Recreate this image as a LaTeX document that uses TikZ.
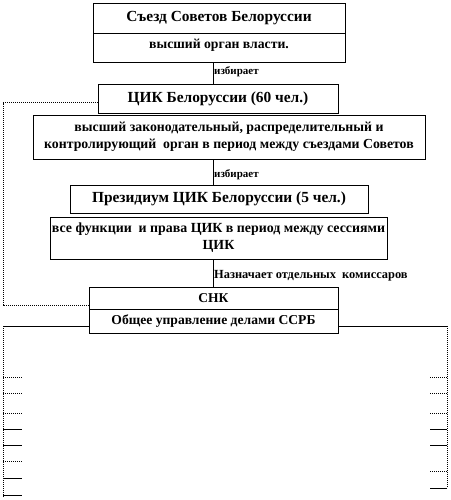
\documentclass[tikz,border=0pt]{standalone}
\usepackage{fontspec}
\setmainfont{Liberation Serif}
\begin{document}
\begin{tikzpicture}[x=1pt,y=-1pt,
  box/.style={draw, line width=0.8pt, inner sep=0pt, align=center, font=\bfseries},
  big/.style={font=\bfseries\fontsize{15.4}{17}\selectfont},
  mid/.style={font=\bfseries\fontsize{13.8}{17}\selectfont},
  lbl/.style={anchor=west, inner sep=1pt, font=\bfseries\fontsize{11}{12}\selectfont},
  lnk/.style={line width=0.6pt},
  dots/.style={densely dotted, line width=1pt},
  tick/.style={line width=0.8pt}]
\useasboundingbox (0,0) rectangle (450,500);
% top
\node[box, big, minimum width=252pt, minimum height=30pt] (s1) at (219,18) {Съезд Советов Белоруссии};
\node[box, font=\bfseries\fontsize{13.7}{17}\selectfont, minimum width=252pt, minimum height=29pt, text depth=7pt] (s2) at (219,47.5) {высший орган власти.};
% CIK
\node[box, big, minimum width=240pt, minimum height=29pt] (c1) at (218,98.5) {ЦИК Белоруссии (60 чел.)};
\node[box, mid, minimum width=392pt, minimum height=44pt] (c2) at (229,137) {высший законодательный, распределительный и\\контролирующий\ \ орган в период между съездами Советов};
% Presidium
\node[box, big, minimum width=298pt, minimum height=28pt] (p1) at (219,199) {Президиум ЦИК Белоруссии (5 чел.)};
\node[box, font=\bfseries\fontsize{13.9}{17}\selectfont, minimum width=337pt, minimum height=42pt] (p2) at (218.5,238) {все функции\ \ и права ЦИК в период между сессиями\\ЦИК};
% SNK
\node[box, font=\bfseries\fontsize{13.5}{15}\selectfont, minimum width=249pt, minimum height=22pt] (n1) at (213.5,298) {СНК};
\node[box, font=\bfseries\fontsize{13.6}{16}\selectfont, minimum width=249pt, minimum height=24pt] (n2) at (213.5,321) {Общее управление делами ССРБ};
% connectors
\draw[lnk] ([xshift=-6pt]s2.south) -- ([xshift=-6pt]s2.south |- c1.north);
\node[lbl] (l1) at (213,72) {избирает};
\draw[lnk] ([xshift=-16pt]c2.south) -- ([xshift=-16pt]c2.south |- p1.north);
\node[lbl] (l2) at (213,175) {избирает};
\draw[lnk] ([xshift=-5.5pt]p2.south) -- ([xshift=-5.5pt]p2.south |- n1.north);
\node[lbl, font=\bfseries\fontsize{12.4}{13}\selectfont] (l3) at (213,276) {Назначает отдельных\ \ комиссаров};
% dotted link CIK -> SNK
\coordinate (d1) at (3,103);
\coordinate (d2) at (3,305);
\draw[dots] ([yshift=-4.5pt]c1.west) -- (d1) -- (d2) -- ([yshift=-7pt]n1.west);
% lower bracket
\coordinate (bl) at (3,326);
\coordinate (br) at (447,326);
\coordinate (blb) at (3,497);
\coordinate (brb) at (447,488);
\draw[tick] (bl) -- ([yshift=-5pt]n2.west);
\draw[tick] ([yshift=-5pt]n2.east) -- (br);
\draw[dots] (bl) -- (blb);
\draw[dots] (br) -- (brb);
% left ticks
\foreach \y/\s in {377/dots, 393/dots, 413/dots, 429/tick, 445/tick, 461/dots, 478/tick, 495/tick}
  \draw[\s] (3,\y) -- (22,\y);
% right ticks
\foreach \y/\s in {377/dots, 393/dots, 413/dots, 429/tick, 445/tick, 471/dots, 488/tick}
  \draw[\s] (430,\y) -- (447,\y);
\end{tikzpicture}
\end{document}
